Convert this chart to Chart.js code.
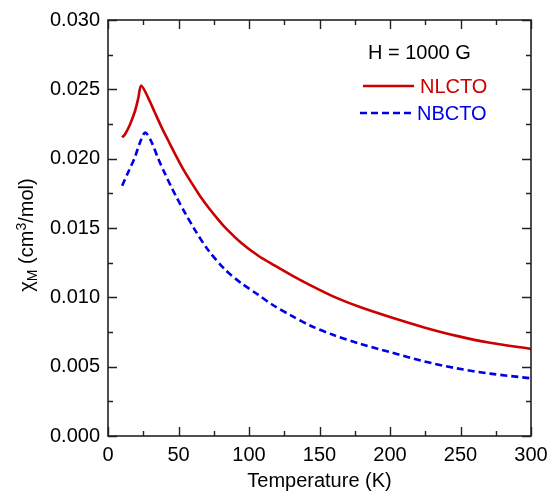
<!DOCTYPE html>
<html>
<head>
<meta charset="utf-8">
<script src="https://cdn.jsdelivr.net/npm/chart.js@4.4.1/dist/chart.umd.min.js"></script>
<style>
  html, body { margin: 0; padding: 0; background: #ffffff; }
  #wrap { width: 557px; height: 495px; }
</style>
</head>
<body>
<div id="wrap"><canvas id="c" width="557" height="495"></canvas></div>
<script>
// Molar susceptibility vs temperature, H = 1000 G
const nlctoTemp = [10, 12.1, 15.6, 19.1, 21.5, 23.5, 28.6, 33.3, 38.1, 42.8, 47.5, 53, 59.3, 65, 71.1, 77, 83, 94.8, 106.6, 118.4, 130, 143.3, 160, 178.7, 200, 223.6, 247.3, 270.9, 300];
const nlctoChi  = [0.02153, 0.02176, 0.02247, 0.02342, 0.02437, 0.02528, 0.02437, 0.02331, 0.02224, 0.02129, 0.02034, 0.0193, 0.01825, 0.01735, 0.0165, 0.01575, 0.01505, 0.0139, 0.013, 0.01228, 0.0116, 0.01088, 0.01005, 0.0093, 0.00858, 0.00785, 0.00722, 0.00672, 0.00628];

const nbctoTemp = [10, 14.4, 19.1, 22.7, 26.4, 31, 35.7, 40.4, 45.2, 48.7, 54.6, 61.7, 71.1, 83, 94.8, 106.6, 116.1, 130, 143.3, 160, 178.7, 200, 223.6, 247.3, 270.9, 300];
const nbctoChi  = [0.01805, 0.01904, 0.02011, 0.02117, 0.02188, 0.02117, 0.01998, 0.01892, 0.0179, 0.0172, 0.0161, 0.01485, 0.0134, 0.012, 0.011, 0.01018, 0.0095, 0.00868, 0.00797, 0.00728, 0.00665, 0.00605, 0.0054, 0.00488, 0.0045, 0.00416];

const xTickValues = [0, 50, 100, 150, 200, 250, 300];
const yTickValues = [0, 0.005, 0.010, 0.015, 0.020, 0.025, 0.030];

const seriesNames = ['NLCTO', 'NBCTO'];
const fieldLabel = 'H = 1000 G';
const xTitle = 'Temperature (K)';

const RED = 'rgb(204,0,0)';
const BLUE = 'rgb(0,0,230)';
const INK = '#222222';
const FONT = '"Liberation Sans", Arial, Helvetica, sans-serif';
const FS = 20;

const toPoints = (xs, ys) => xs.map((x, i) => ({ x: x, y: ys[i] }));

// Box frame, inward ticks on all four sides, titles and the key
const framePlugin = {
  id: 'frame',
  afterDraw(chart) {
    const ctx = chart.ctx;
    const a = chart.chartArea;
    const xs = chart.scales.x, ys = chart.scales.y;
    ctx.save();
    ctx.strokeStyle = INK;
    ctx.lineWidth = 1.6;
    ctx.strokeRect(a.left, a.top, a.right - a.left, a.bottom - a.top);

    const major = 9, minor = 5;
    ctx.lineWidth = 1.4;
    ctx.beginPath();
    for (let v = 0; v <= 300.001; v += 25) {
      const px = Math.round(xs.getPixelForValue(v)) + 0.5;
      const len = (Math.abs(v % 50) < 1e-6) ? major : minor;
      ctx.moveTo(px, a.bottom); ctx.lineTo(px, a.bottom - len);
      ctx.moveTo(px, a.top); ctx.lineTo(px, a.top + len);
    }
    for (let k = 0; k <= 12; k++) {
      const v = k * 0.0025;
      const py = Math.round(ys.getPixelForValue(v)) + 0.5;
      const len = (k % 2 === 0) ? major : minor;
      ctx.moveTo(a.left, py); ctx.lineTo(a.left + len, py);
      ctx.moveTo(a.right, py); ctx.lineTo(a.right - len, py);
    }
    ctx.stroke();

    // x title
    ctx.fillStyle = '#000';
    ctx.font = FS + 'px ' + FONT;
    ctx.textAlign = 'center';
    ctx.textBaseline = 'middle';
    ctx.fillText(xTitle, (a.left + a.right) / 2, 481);

    // y title: chi_M (cm^3/mol), rotated
    const big = FS + 'px ' + FONT, small = Math.round(FS * 0.68) + 'px ' + FONT;
    const parts = [
      { t: '\u03C7', f: big, dy: 0 },
      { t: 'M', f: small, dy: 4 },
      { t: ' (cm', f: big, dy: 0 },
      { t: '3', f: small, dy: -7 },
      { t: '/mol)', f: big, dy: 0 }
    ];
    let total = 0;
    parts.forEach(p => { ctx.font = p.f; p.w = ctx.measureText(p.t).width; total += p.w; });
    ctx.save();
    ctx.translate(26, (a.top + a.bottom) / 2 + 7);
    ctx.rotate(-Math.PI / 2);
    ctx.textAlign = 'left';
    ctx.textBaseline = 'alphabetic';
    let cx = -total / 2;
    parts.forEach(p => { ctx.font = p.f; ctx.fillText(p.t, cx, 7 + p.dy); cx += p.w; });
    ctx.restore();

    // key
    ctx.font = FS + 'px ' + FONT;
    ctx.textAlign = 'left';
    ctx.textBaseline = 'middle';
    ctx.fillStyle = '#000';
    ctx.fillText(fieldLabel, a.right - 163, 53);

    ctx.lineWidth = 2.5;
    ctx.strokeStyle = RED;
    ctx.setLineDash([]);
    ctx.beginPath(); ctx.moveTo(a.right - 168, 86); ctx.lineTo(a.right - 117, 86); ctx.stroke();
    ctx.fillStyle = RED;
    ctx.fillText(seriesNames[0], a.right - 111, 87);

    ctx.strokeStyle = BLUE;
    ctx.setLineDash([7, 4]);
    ctx.beginPath(); ctx.moveTo(a.right - 171, 113); ctx.lineTo(a.right - 119, 113); ctx.stroke();
    ctx.setLineDash([]);
    ctx.fillStyle = BLUE;
    ctx.fillText(seriesNames[1], a.right - 114, 114);
    ctx.restore();
  }
};

new Chart(document.getElementById('c'), {
  type: 'scatter',
  data: {
    datasets: [
      {
        label: seriesNames[0],
        data: toPoints(nlctoTemp, nlctoChi),
        showLine: true,
        borderColor: RED,
        borderWidth: 2.6,
        pointRadius: 0,
        tension: 0.3,
        fill: false
      },
      {
        label: seriesNames[1],
        data: toPoints(nbctoTemp, nbctoChi),
        showLine: true,
        borderColor: BLUE,
        borderWidth: 2.6,
        borderDash: [7, 4],
        pointRadius: 0,
        tension: 0.3,
        fill: false
      }
    ]
  },
  options: {
    responsive: false,
    animation: false,
    devicePixelRatio: 1,
    layout: { padding: { top: 14, right: 26, left: 0, bottom: 0 } },
    plugins: { legend: { display: false }, tooltip: { enabled: false } },
    scales: {
      x: {
        type: 'linear',
        min: 0, max: 300,
        afterFit(s) { s.height = 59; },
        afterBuildTicks(s) { s.ticks = xTickValues.map(v => ({ value: v })); },
        grid: { display: false, drawTicks: false },
        border: { display: false },
        ticks: {
          padding: 7,
          color: '#000',
          font: { family: FONT, size: FS },
          maxRotation: 0,
          callback: v => String(v)
        }
      },
      y: {
        type: 'linear',
        min: 0, max: 0.03,
        afterFit(s) { s.width = 108; },
        afterBuildTicks(s) { s.ticks = yTickValues.map(v => ({ value: v })); },
        grid: { display: false, drawTicks: false },
        border: { display: false },
        ticks: {
          padding: 8,
          color: '#000',
          font: { family: FONT, size: FS },
          callback: v => Number(v).toFixed(3)
        }
      }
    }
  },
  plugins: [framePlugin]
});
</script>
</body>
</html>
